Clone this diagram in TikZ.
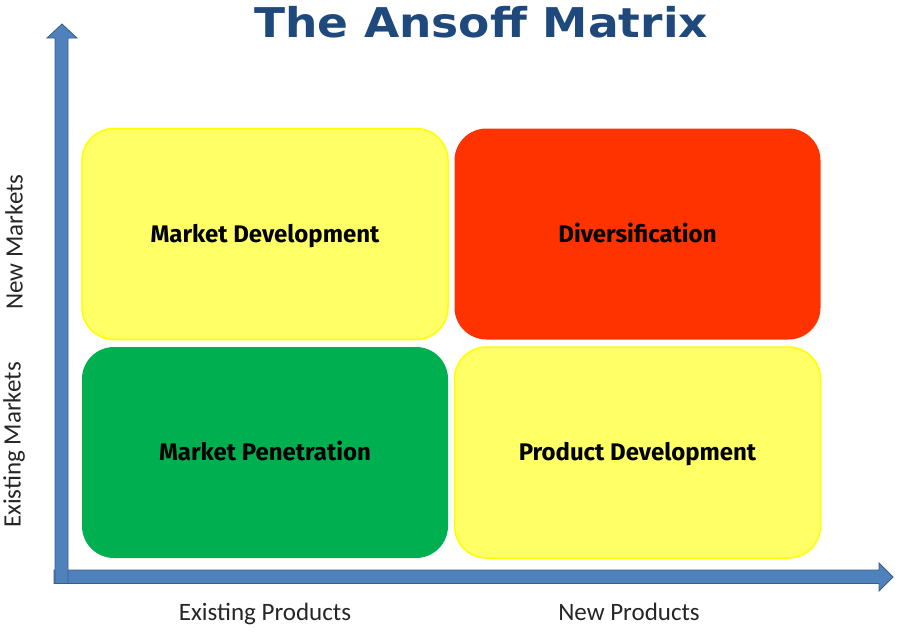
\documentclass[tikz,border=0pt]{standalone}
\usepackage{fontspec}
\usepackage{graphicx}
\setmainfont{Carlito}
\newfontfamily\titlefont{DejaVu Sans}
\newfontfamily\boxfont{Fira Sans}
\definecolor{axisblue}{RGB}{79,129,189}
\definecolor{axisedge}{RGB}{56,93,138}
\definecolor{titleblue}{RGB}{31,73,125}
\definecolor{lightyellow}{RGB}{255,255,102}
\definecolor{edgeyellow}{RGB}{255,255,0}
\definecolor{quadred}{RGB}{255,51,0}
\definecolor{quadgreen}{RGB}{0,176,80}
\tikzset{
  quad/.style={rounded corners=32pt, minimum width=366pt, minimum height=211pt,
    inner sep=0pt, text height=16pt, text depth=0pt,
    font=\boxfont\bfseries\fontsize{24}{28}\selectfont, text=black},
  yquad/.style={quad, fill=lightyellow, draw=edgeyellow, line width=1.5pt},
  axis/.style={fill=axisblue, draw=axisedge, line width=0.8pt, line join=miter},
  axislabel/.style={font=\fontsize{25}{28}\selectfont, text=black!85, inner sep=0pt}
}
\begin{document}
\begin{tikzpicture}[x=1pt,y=-1pt]
\useasboundingbox (0,0) rectangle (901,637);
\fill[white] (0,0) rectangle (901,637);
% title
\node[font=\titlefont\bfseries\fontsize{41}{44}\selectfont, text=titleblue, inner sep=0pt] (title) at (481,22) {\scalebox{1.11}[1]{The Ansoff Matrix}};
% axes
\coordinate (origin) at (61,577);
\draw[axis] (54,570) -- (879,570) -- (879,563) -- (893,577) -- (879,591) -- (879,583.5) -- (54,583.5) -- cycle;
\draw[axis] (55,583.5) -- (55,38) -- (47,38) -- (62,24) -- (77,38) -- (68,38) -- (68,583.5) -- cycle;
% quadrants
\node[yquad] (md) at (265,234) {Market Development};
\node[quad, fill=quadred] (div) at (637.5,234) {Diversification};
\node[quad, fill=quadgreen] (mp) at (265,452.5) {Market Penetration};
\node[yquad] (pd) at (637.5,452.5) {Product Development};
% axis labels
\node[axislabel, rotate=90] (nm) at (14,242) {New Markets};
\node[axislabel, rotate=90] (em) at (14,445) {Existing Markets};
\node[axislabel] (ep) at (265,614) {Existing Products};
\node[axislabel] (np) at (629,612) {New Products};
\end{tikzpicture}
\end{document}
